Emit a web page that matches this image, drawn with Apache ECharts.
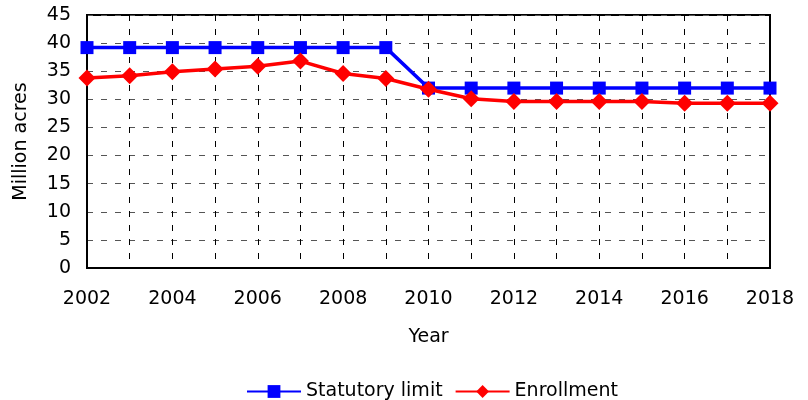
<!DOCTYPE html>
<html>
<head>
<meta charset="utf-8">
<script src="https://cdn.jsdelivr.net/npm/echarts@6/dist/echarts.min.js"></script>
<style>
  body { margin: 0; background: #fff; }
  #chart { width: 808px; height: 400px; }
</style>
</head>
<body>
<div id="chart"></div>
<script>
// 数据
const years = ['2002', '2003', '2004', '2005', '2006', '2007', '2008', '2009', '2010',
  '2011', '2012', '2013', '2014', '2015', '2016', '2017', '2018']
const statutoryLimit = [39.2, 39.2, 39.2, 39.2, 39.2, 39.2, 39.2, 39.2, 32, 32, 32, 32, 32, 32, 32, 32, 32]
const enrollment = [33.8, 34.2, 34.9, 35.4, 35.9, 36.8, 34.6, 33.7, 31.8, 30.1, 29.6, 29.6, 29.6, 29.6, 29.3, 29.3, 29.3]

const myChart = echarts.init(document.querySelector('#chart'))
const font = 'DejaVu Sans, Arial, sans-serif'
const option = {
  animation: false,
  grid: {
    left: 87,
    right: 38,
    top: 15,
    bottom: 132,
    show: true,
    borderColor: '#000',
    borderWidth: 2
  },
  // 图例 (居中于绘图区下方)
  legend: {
    bottom: -6,
    left: 241,
    itemWidth: 54,
    itemHeight: 16,
    itemGap: 12,
    textStyle: { fontFamily: font, fontSize: 19, color: '#000' },
    data: ['Statutory limit', 'Enrollment']
  },
  xAxis: {
    type: 'category',
    boundaryGap: false,
    data: years,
    name: 'Year',
    nameLocation: 'middle',
    nameGap: 60,
    nameTextStyle: { fontFamily: font, fontSize: 19, color: '#000' },
    axisLine: { lineStyle: { color: '#000', width: 2 } },
    axisTick: { show: false },
    axisLabel: { interval: 1, margin: 22, fontFamily: font, fontSize: 19, color: '#000' },
    splitLine: {
      show: true,
      interval: 0,
      lineStyle: { type: [6, 8], color: '#000', width: 1 }
    }
  },
  yAxis: {
    type: 'value',
    min: 0,
    max: 45,
    interval: 5,
    name: 'Million acres',
    nameLocation: 'middle',
    nameGap: 56,
    nameTextStyle: { fontFamily: font, fontSize: 19, color: '#000' },
    axisLine: { show: true, lineStyle: { color: '#000', width: 2 } },
    axisTick: { show: false },
    axisLabel: { margin: 16, fontFamily: font, fontSize: 19, color: '#000' },
    splitLine: {
      lineStyle: { type: [6, 8], color: '#555', width: 1 }
    }
  },
  series: [
    {
      name: 'Statutory limit',
      type: 'line',
      data: statutoryLimit,
      symbol: 'rect',
      symbolSize: 13,
      color: '#0000ff',
      lineStyle: { width: 3.5, color: '#0000ff' },
      itemStyle: { color: '#0000ff' },
      z: 3
    },
    {
      name: 'Enrollment',
      type: 'line',
      data: enrollment,
      symbol: 'diamond',
      symbolSize: 17,
      color: '#ff0000',
      lineStyle: { width: 3.5, color: '#ff0000' },
      itemStyle: { color: '#ff0000' },
      z: 4
    }
  ]
}
myChart.setOption(option)
</script>
</body>
</html>
